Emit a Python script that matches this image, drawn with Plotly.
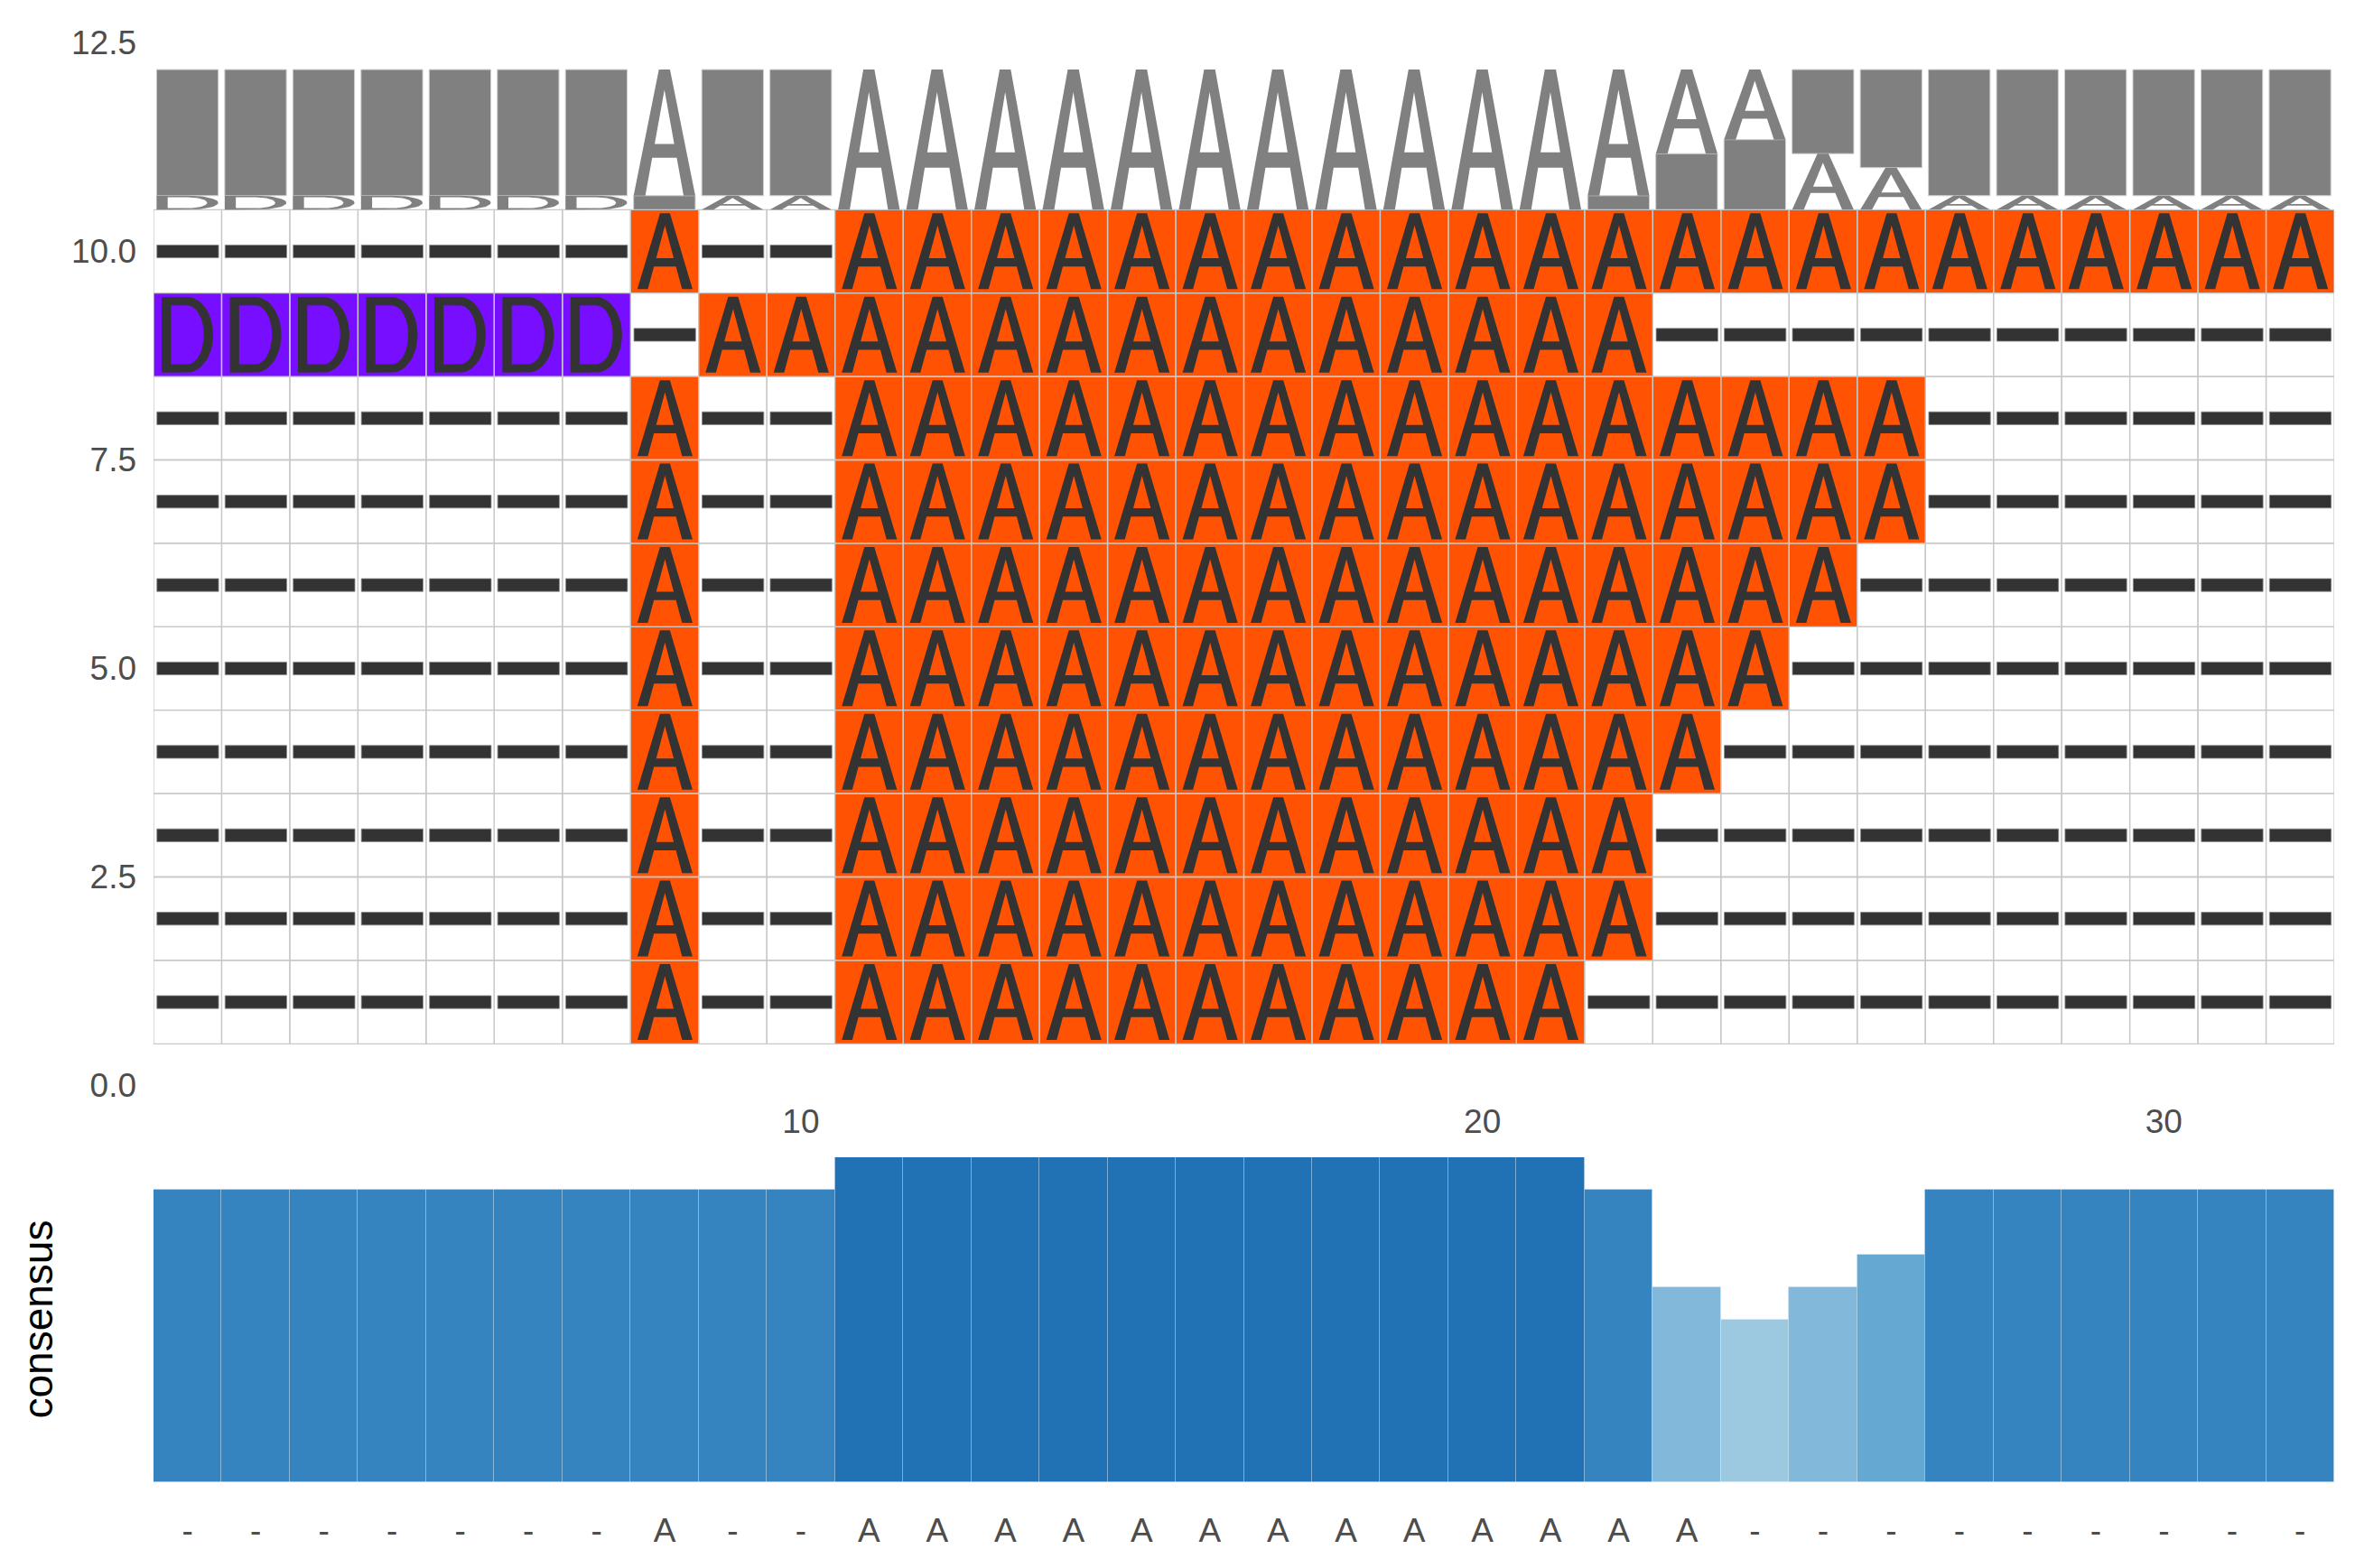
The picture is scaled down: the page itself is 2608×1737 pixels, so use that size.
import numpy as np
import plotly.graph_objects as go

W, H = 2608, 1737

# ------------------------------------------------------------------ data
# aligned sequences, row 1 (bottom) ... row 10 (top)
sequences = [
    "-------A--AAAAAAAAAAA-----------",
    "-------A--AAAAAAAAAAAA----------",
    "-------A--AAAAAAAAAAAA----------",
    "-------A--AAAAAAAAAAAAA---------",
    "-------A--AAAAAAAAAAAAAA--------",
    "-------A--AAAAAAAAAAAAAAA-------",
    "-------A--AAAAAAAAAAAAAAAA------",
    "-------A--AAAAAAAAAAAAAAAA------",
    "DDDDDDD-AAAAAAAAAAAAAA----------",
    "-------A--AAAAAAAAAAAAAAAAAAAAAA",
]
positions = list(range(1, 33))
consensus_letters = ["-", "-", "-", "-", "-", "-", "-", "A", "-", "-",
                     "A", "A", "A", "A", "A", "A", "A", "A", "A", "A",
                     "A", "A", "A", "-", "-", "-", "-", "-", "-", "-",
                     "-", "-"]
conservation = [0.9, 0.9, 0.9, 0.9, 0.9, 0.9, 0.9, 0.9, 0.9, 0.9,
                1.0, 1.0, 1.0, 1.0, 1.0, 1.0, 1.0, 1.0, 1.0, 1.0,
                1.0, 0.9, 0.6, 0.5, 0.6, 0.7, 0.9, 0.9, 0.9, 0.9,
                0.9, 0.9]
y_tick_vals = [0, 2.5, 5, 7.5, 10, 12.5]
x_tick_vals = [10, 20, 30]

# ------------------------------------------------------------------ style
residue_fill = {"A": "#FF5203", "D": "#770EFF", "-": "#FFFFFF"}
GLYPH_DARK = "#333333"
LOGO_GREY = "#808080"
GRID_COL = "#C8C8C8"
TXT = "#4D4D4D"
FONT = "Liberation Sans, Arial, Helvetica, sans-serif"
blues = [[0.0, "#9DC9E0"], [0.2, "#82B8DA"], [0.4, "#65A8D2"],
         [0.8, "#3584BF"], [1.0, "#2171B5"]]

LOGO_BASE = 10.5
LOGO_H = 1.68

# pixel geometry
L_PX, R_PX = 170, 2585
Y0_PX, PX_PER_UNIT = 1202.5, 92.4
TOP_DOM_PX = (20, 1212)
BOT_DOM_PX = (1282, 1642)


# ------------------------------------------------------------------ glyph templates (unit box)
def glyph_A(t=0.19, ap=0.84, cb0=0.30, cb1=0.41, w0=0.41, w1=0.59):
    pl = lambda y: t + (0.5 - t) * y / ap
    pr = lambda y: 1 - pl(y)
    pts = [(0, 0), (t, 0), (pl(cb0), cb0), (pr(cb0), cb0), (1 - t, 0), (1, 0),
           (w1, 1), (w0, 1),
           (0.5, ap), (pr(cb1), cb1), (pl(cb1), cb1), (0.5, ap),
           (w0, 1), (0, 0)]
    return pts


def glyph_D(sx=0.18, sy=0.11, n=28):
    pts = [(0, 0), (0.5, 0)]
    for a in np.linspace(-np.pi / 2, np.pi / 2, n):
        pts.append((0.5 + 0.5 * np.cos(a), 0.5 + 0.5 * np.sin(a)))
    pts += [(0, 1), (0, 0), (sx, sy), (sx, 1 - sy), (0.5, 1 - sy)]
    rx, ry = 0.5 - sx, 0.5 - sy
    for a in np.linspace(np.pi / 2, -np.pi / 2, n):
        pts.append((0.5 + rx * np.cos(a), 0.5 + ry * np.sin(a)))
    pts += [(0.5, sy), (sx, sy), (0, 0)]
    return pts


def glyph_rect():
    return [(0, 0), (1, 0), (1, 1), (0, 1), (0, 0)]


TEMPLATES = {"A": glyph_A(), "D": glyph_D(), "-": glyph_rect()}


def place(pts, x0, x1, y0, y1, xs, ys):
    for u, v in pts:
        xs.append(x0 + u * (x1 - x0))
        ys.append(y0 + v * (y1 - y0))
    xs.append(None)
    ys.append(None)


# ------------------------------------------------------------------ build marks
tile_xy = {k: ([], []) for k in residue_fill}
glyph_xy = ([], [])
dash_xy = ([], [])
for r, seq in enumerate(sequences, start=1):
    for c, ch in zip(positions, seq):
        place(glyph_rect(), c - 0.5, c + 0.5, r - 0.5, r + 0.5, *tile_xy[ch])
        if ch == "-":
            place(TEMPLATES["-"], c - 0.45, c + 0.455, r - 0.077, r + 0.077, *dash_xy)
        elif ch == "A":
            place(TEMPLATES["A"], c - 0.40, c + 0.41, r - 0.453, r + 0.456, *glyph_xy)
        else:
            place(TEMPLATES["D"], c - 0.38, c + 0.375, r - 0.453, r + 0.453, *glyph_xy)

# sequence logo (frequency stacks)
logo_rect_xy = ([], [])
logo_letter_xy = ([], [])
nseq = len(sequences)
for i, c in enumerate(positions):
    col = [s[i] for s in sequences]
    syms = sorted(set(col), key=lambda s: (col.count(s), s))
    base = LOGO_BASE
    for s in syms:
        h = col.count(s) / nseq * LOGO_H
        if s == "-":
            place(TEMPLATES["-"], c - 0.455, c + 0.45, base, base + h, *logo_rect_xy)
        else:
            place(TEMPLATES[s], c - 0.455, c + 0.45, base, base + h, *logo_letter_xy)
        base += h

# ------------------------------------------------------------------ figure
fig = go.Figure()
for ch in ["-", "A", "D"]:
    xs, ys = tile_xy[ch]
    fig.add_trace(go.Scatter(x=xs, y=ys, mode="lines", fill="toself",
                             fillcolor=residue_fill[ch],
                             line=dict(color=GRID_COL, width=1.3),
                             hoverinfo="skip", showlegend=False,
                             xaxis="x", yaxis="y"))
fig.add_trace(go.Scatter(x=dash_xy[0], y=dash_xy[1], mode="lines", fill="toself",
                         fillcolor=GLYPH_DARK, line=dict(color="#8A8A8A", width=0.8),
                         hoverinfo="skip", showlegend=False))
fig.add_trace(go.Scatter(x=glyph_xy[0], y=glyph_xy[1], mode="lines", fill="toself",
                         fillcolor=GLYPH_DARK, line=dict(width=0, color=GLYPH_DARK),
                         hoverinfo="skip", showlegend=False))
fig.add_trace(go.Scatter(x=logo_rect_xy[0], y=logo_rect_xy[1], mode="lines", fill="toself",
                         fillcolor=LOGO_GREY, line=dict(color="#CFCFCF", width=1),
                         hoverinfo="skip", showlegend=False))
fig.add_trace(go.Scatter(x=logo_letter_xy[0], y=logo_letter_xy[1], mode="lines", fill="toself",
                         fillcolor=LOGO_GREY, line=dict(width=0, color=LOGO_GREY),
                         hoverinfo="skip", showlegend=False))

fig.add_trace(go.Bar(x=positions, y=conservation, width=1,
                     marker=dict(color=conservation, colorscale=blues, cmin=0.5, cmax=1.0,
                                 showscale=False,
                                 line=dict(color="rgba(255,255,255,0.18)", width=1)),
                     hoverinfo="skip", showlegend=False, xaxis="x2", yaxis="y2"))

plot_w = W - L_PX - (W - R_PX)
top_range = [(Y0_PX - TOP_DOM_PX[1]) / PX_PER_UNIT, (Y0_PX - TOP_DOM_PX[0]) / PX_PER_UNIT]


def dom(px):
    return [1 - px[1] / H, 1 - px[0] / H]


fig.update_layout(
    width=W, height=H, autosize=False,
    margin=dict(l=L_PX, r=W - R_PX, t=0, b=0, pad=0, autoexpand=False),
    paper_bgcolor="white", plot_bgcolor="white",
    font=dict(family=FONT, size=37, color=TXT),
    bargap=0,
    xaxis=dict(domain=[0, 1], range=[0.5, 32.5], anchor="y", automargin=False,
               tickvals=x_tick_vals, ticktext=[str(v) for v in x_tick_vals],
               showgrid=False, zeroline=False, showline=False, ticks="",
               tickfont=dict(size=37, color=TXT), ticklabelstandoff=5),
    yaxis=dict(domain=dom(TOP_DOM_PX), range=top_range, anchor="x", automargin=False,
               tickvals=y_tick_vals, ticktext=[f"{v:.1f}" for v in y_tick_vals],
               showgrid=False, zeroline=False, showline=False, ticks="",
               tickfont=dict(size=37, color=TXT), ticklabelstandoff=18),
    xaxis2=dict(domain=[0, 1], range=[0.5, 32.5], anchor="y2", automargin=False,
                tickvals=positions, ticktext=consensus_letters,
                showgrid=False, zeroline=False, showline=False, ticks="",
                tickfont=dict(size=37, color=TXT), ticklabelstandoff=28),
    yaxis2=dict(domain=dom(BOT_DOM_PX), range=[0, 1.0], anchor="x2", automargin=False,
                showticklabels=False, showgrid=False, zeroline=False, showline=False,
                ticks=""),
    annotations=[dict(text="consensus", textangle=-90, showarrow=False,
                      xref="paper", yref="paper",
                      x=(41.5 - L_PX) / plot_w, y=1 - 1462 / H,
                      xanchor="center", yanchor="middle",
                      font=dict(family=FONT, size=46, color="black"))],
)

fig.write_html("out.html")
